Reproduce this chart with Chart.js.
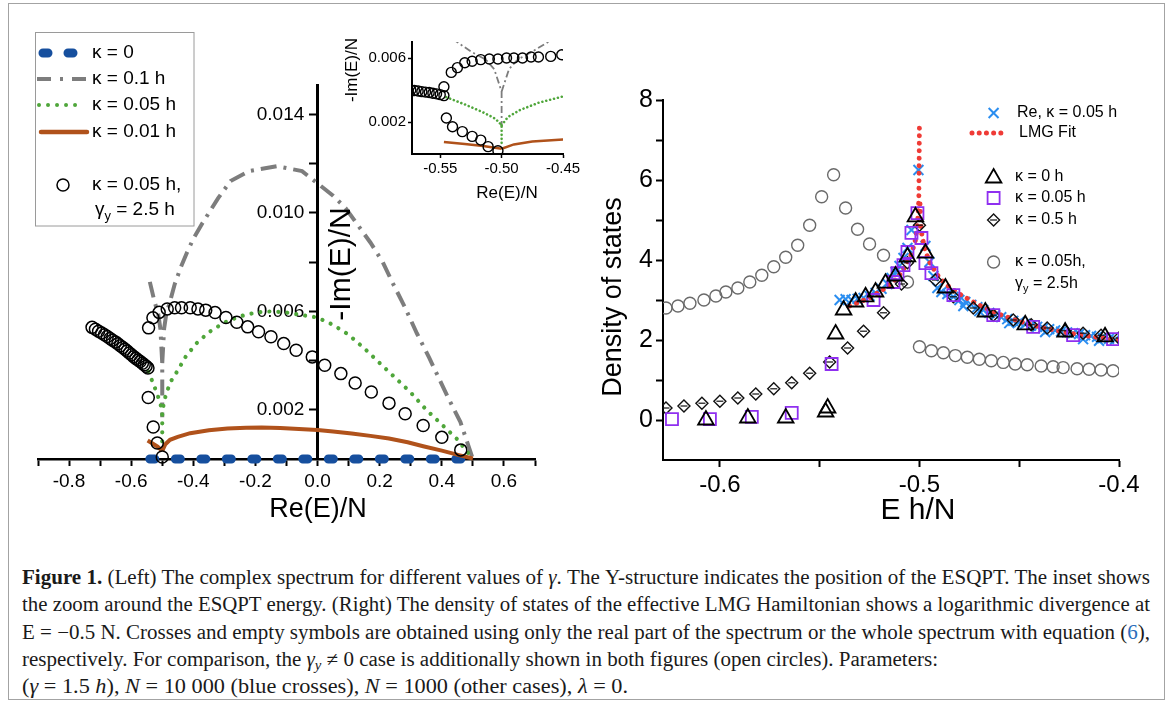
<!DOCTYPE html>
<html>
<head>
<meta charset="utf-8">
<script src="https://cdn.jsdelivr.net/npm/chart.js@4.4.0/dist/chart.umd.min.js"></script>
<style>
  body { margin: 0; background: #fff; width: 1171px; height: 702px; position: relative; overflow: hidden; }
  #frame { position: absolute; left: 8px; top: 3px; width: 1155px; height: 695px; border: 1.5px solid #a3a3a3; }
  canvas { position: absolute; }
  #cLeft { left: 0; top: 0; }
  #cInset { left: 330px; top: 20px; }
  #cRight { left: 590px; top: 0; }
  #caption { position: absolute; left: 22px; top: 564px; width: 1128px; font-family: 'Liberation Serif', 'Times New Roman', serif; font-size: 20.5px; line-height: 27.3px; color: #1a1a1a; }
  #caption div { white-space: nowrap; height: 27.3px; }
  #caption span.ln { display: inline-block; transform-origin: 0 50%; }
  #caption sub { font-size: 0.7em; line-height: 0; vertical-align: -0.3em; }
  #caption .lnk { color: #2a6ebb; }
</style>
</head>
<body>
<div id="frame"></div>
<canvas id="cLeft" width="590" height="530"></canvas>
<canvas id="cInset" width="260" height="190"></canvas>
<canvas id="cRight" width="581" height="530"></canvas>
<div id="caption">
  <div><span class="ln"><b>Figure 1.</b> (Left) The complex spectrum for different values of <i>γ</i>. The Υ-structure indicates the position of the ESQPT. The inset shows</span></div>
  <div><span class="ln">the zoom around the ESQPT energy. (Right) The density of states of the effective LMG Hamiltonian shows a logarithmic divergence at</span></div>
  <div><span class="ln">E = −0.5 N. Crosses and empty symbols are obtained using only the real part of the spectrum or the whole spectrum with equation (<span class="lnk">6</span>),</span></div>
  <div><span class="ln">respectively. For comparison, the <i>γ<sub>y</sub></i> ≠ 0 case is additionally shown in both figures (open circles). Parameters:</span></div>
  <div><span class="ln">(<i>γ</i> = 1.5 <i>h</i>), <i>N</i> = 10 000 (blue crosses), <i>N</i> = 1000 (other cases), <i>λ</i> = 0.</span></div>
</div>
<script>
// ---- left panel: complex spectrum ----
const blueX = [-0.54, 0.5];
const blueY = [0, 0];

const grayX = [-0.540, -0.525, -0.513, -0.506, -0.500, -0.500, null, -0.500, -0.494, -0.487, -0.475, -0.460, -0.440, -0.420, -0.400,
  -0.370, -0.320, -0.280, -0.220, -0.130, -0.050, 0.010, 0.050, 0.090, 0.130, 0.170, 0.210, 0.240, 0.280, 0.320, 0.360, 0.390, 0.420, 0.460, 0.500];
const grayY = [0.0072, 0.0064, 0.0059, 0.0053, 0.0039, 0.0017, null, 0.0039, 0.0053, 0.0059, 0.0064, 0.0071, 0.0078, 0.0084, 0.00895,
  0.0096, 0.0106, 0.0113, 0.0117, 0.0119, 0.0117, 0.0111, 0.0107, 0.0102, 0.0095, 0.0088, 0.0080, 0.0072, 0.0062, 0.0051, 0.0041, 0.0033, 0.0025, 0.0015, 0.0000];

const greenX = [-0.545, -0.530, -0.515, -0.505, -0.500, -0.500, null, -0.500, -0.495, -0.485, -0.470, -0.450, -0.425, -0.390, -0.350,
  -0.300, -0.250, -0.200, -0.150, -0.100, -0.050, 0.000, 0.050, 0.100, 0.150, 0.200, 0.250, 0.300, 0.350, 0.400, 0.450, 0.500];
const greenY = [0.00355, 0.0031, 0.0026, 0.0022, 0.0018, 0.00045, null, 0.0018, 0.0023, 0.00275, 0.0032, 0.0036, 0.00415, 0.0047, 0.00515,
  0.00555, 0.0058, 0.00595, 0.0060, 0.00595, 0.00585, 0.00575, 0.00545, 0.00505, 0.0045, 0.0039, 0.0033, 0.0027, 0.0020, 0.0014, 0.0008, 0.0000];

const orangeX = [-0.547, -0.530, -0.515, -0.500, null, -0.500, -0.490, -0.475, -0.450, -0.410, -0.350, -0.290, -0.230, -0.180, -0.120,
  -0.060, 0.000, 0.050, 0.110, 0.170, 0.230, 0.290, 0.340, 0.400, 0.455, 0.500];
const orangeY = [0.00075, 0.00062, 0.0005, 0.00033, null, 0.00033, 0.0006, 0.00078, 0.0009, 0.00105, 0.00117, 0.00124, 0.00127, 0.00128, 0.00126,
  0.00122, 0.00118, 0.00112, 0.00104, 0.00094, 0.00083, 0.00068, 0.00052, 0.00034, 0.00016, 0.00002];

// open circles, kappa = 0.05 h, gamma_y = 2.5 h
const circFarX = [-0.726, -0.715, -0.705, -0.695, -0.686, -0.677, -0.668, -0.660, -0.651, -0.643, -0.635, -0.627,
  -0.620, -0.613, -0.606, -0.599, -0.592, -0.585, -0.578, -0.571, -0.564, -0.558, -0.552, -0.546];
const circFarY = [0.00535, 0.00527, 0.00519, 0.00512, 0.00505, 0.00498, 0.0049, 0.00483, 0.00476, 0.00468, 0.0046, 0.00453,
  0.00446, 0.00439, 0.00431, 0.00424, 0.00416, 0.00409, 0.00402, 0.00396, 0.00389, 0.00383, 0.00377, 0.0037];
const circLowX = [-0.545, -0.529, -0.516, -0.500];
const circLowY = [0.0025, 0.0013, 0.00065, 0.00008];
const circHighX = [-0.544, -0.530, -0.510, -0.484, -0.460, -0.438, -0.410, -0.385, -0.360, -0.330, -0.295, -0.260, -0.225, -0.190,
  -0.150, -0.109, -0.069, -0.017, 0.023, 0.075, 0.121, 0.173, 0.230, 0.282, 0.340, 0.400, 0.461];
const circHighY = [0.00533, 0.00574, 0.00596, 0.0061, 0.00615, 0.00615, 0.00615, 0.0061, 0.00605, 0.00595, 0.00575, 0.00556, 0.00537, 0.00517,
  0.00497, 0.00469, 0.00442, 0.00415, 0.00381, 0.00347, 0.00309, 0.00272, 0.00227, 0.00184, 0.00136, 0.00088, 0.00037];

const leftXTicks = [-0.9, -0.8, -0.7, -0.6, -0.5, -0.4, -0.3, -0.2, -0.1, 0, 0.1, 0.2, 0.3, 0.4, 0.5, 0.6, 0.7];
const leftXLabels = [-0.8, -0.6, -0.4, -0.2, 0, 0.2, 0.4, 0.6];
const leftYTicks = [0.002, 0.004, 0.006, 0.008, 0.010, 0.012, 0.014];
const leftYLabels = [0.002, 0.006, 0.010, 0.014];

// ---- inset: zoom around ESQPT ----
const insetFarX = [-0.574, -0.571, -0.568, -0.565, -0.562, -0.559, -0.556, -0.553, -0.550, -0.547];
const insetFarY = [0.0040, 0.00397, 0.00394, 0.0039, 0.00387, 0.00384, 0.0038, 0.00376, 0.00371, 0.00365];
const insetHighX = [-0.547, -0.541, -0.536, -0.530, -0.524, -0.517, -0.510, -0.503, -0.496, -0.490, -0.483, -0.476, -0.470, -0.460, -0.451];
const insetHighY = [0.0042, 0.0051, 0.0054, 0.0057, 0.0058, 0.0059, 0.00594, 0.00594, 0.006, 0.006, 0.006, 0.00606, 0.00606, 0.0061, 0.0062];
const insetLowX = [-0.545, -0.540, -0.532, -0.524, -0.517, -0.511, -0.503];
const insetLowY = [0.00225, 0.0017, 0.0014, 0.0011, 0.00087, 0.00046, 0.0002];
const insetXTicks = [-0.55, -0.50, -0.45];
const insetYTicks = [0.002, 0.006];

// ---- right panel: density of states ----
const crossX = [-0.540, -0.537, -0.534, -0.531, -0.528, -0.525, -0.522, -0.519, -0.516, -0.514, -0.512, -0.510, -0.508, -0.506, -0.504,
  -0.5005, -0.497, -0.495, -0.493, -0.491, -0.489, -0.486, -0.483, -0.480, -0.477, -0.474, -0.471, -0.468, -0.465, -0.462, -0.459,
  -0.456, -0.453, -0.450, -0.447, -0.444, -0.441, -0.438, -0.435, -0.432, -0.429, -0.426, -0.423, -0.420, -0.417, -0.414, -0.411,
  -0.408, -0.405, -0.402, -0.478, -0.470, -0.455, -0.437, -0.418, -0.410];
const crossY = [3.00, 3.02, 3.00, 3.03, 3.05, 3.10, 3.18, 3.28, 3.40, 3.55, 3.70, 3.85, 4.05, 4.30, 4.75,
  6.25, 4.35, 3.95, 3.60, 3.30, 3.20, 3.15, 3.08, 3.00, 2.95, 2.88, 2.82, 2.75, 2.68, 2.62, 2.57,
  2.52, 2.48, 2.45, 2.40, 2.36, 2.33, 2.30, 2.27, 2.24, 2.21, 2.19, 2.17, 2.15, 2.12, 2.10, 2.08,
  2.05, 2.03, 2.01, 2.85, 2.72, 2.42, 2.20, 2.02, 1.98];

const lmgX = [-0.535, -0.525, -0.517, -0.511, -0.507, -0.504, -0.502, -0.501, -0.5003, -0.5, null,
  -0.4997, -0.499, -0.4975, -0.495, -0.49, -0.485, -0.48, -0.47, -0.46, -0.45, -0.44, -0.43, -0.42, -0.41, -0.40];
const lmgY = [2.85, 3.05, 3.3, 3.55, 3.85, 4.15, 4.5, 4.9, 5.5, 7.35, null,
  5.4, 4.7, 4.3, 3.95, 3.55, 3.32, 3.15, 2.87, 2.64, 2.47, 2.33, 2.22, 2.13, 2.06, 2.0];

const triX = [-0.607, -0.586, -0.567, -0.547, -0.546, -0.542, -0.538, -0.532, -0.527, -0.522, -0.517, -0.512, -0.506, -0.502,
  -0.497, -0.487, -0.467, -0.447, -0.427, -0.407];
const triY = [0.0, 0.05, 0.05, 0.2, 0.3, 2.15, 2.75, 2.95, 3.08, 3.2, 3.42, 3.6, 4.08, 5.08, 4.17, 3.3, 2.7, 2.38, 2.2, 2.08];

const sqX = [-0.624, -0.605, -0.584, -0.564, -0.544, -0.523, -0.513, -0.511, -0.508, -0.506, -0.504, -0.501, -0.499, -0.497,
  -0.494, -0.483, -0.463, -0.443, -0.423, -0.403];
const sqY = [0.02, 0.02, 0.08, 0.18, 1.4, 3.0, 3.45, 3.67, 3.87, 4.2, 4.68, 5.17, 4.55, 3.92, 3.67, 3.12, 2.62, 2.33, 2.12, 2.02];

const dmX = [-0.627, -0.618, -0.609, -0.600, -0.591, -0.582, -0.573, -0.564, -0.555, -0.545, -0.536, -0.528, -0.518, -0.509,
  -0.506, -0.500, -0.492, -0.483, -0.473, -0.463, -0.453, -0.444, -0.436, -0.427, -0.418, -0.409, -0.400];
const dmY = [0.3, 0.35, 0.42, 0.47, 0.55, 0.65, 0.78, 0.93, 1.17, 1.45, 1.8, 2.22, 2.68, 3.4,
  3.93, 4.87, 3.5, 3.08, 2.8, 2.62, 2.5, 2.38, 2.3, 2.23, 2.17, 2.12, 2.05];

const gcX = [-0.627, -0.621, -0.615, -0.608, -0.602, -0.597, -0.591, -0.585, -0.579, -0.573, -0.567, -0.561, -0.555, -0.549,
  -0.543, -0.537, -0.531, -0.525, -0.518, -0.506, -0.500, -0.494, -0.488, -0.482, -0.476, -0.470, -0.464, -0.458, -0.452,
  -0.446, -0.439, -0.433, -0.428, -0.421, -0.415, -0.409, -0.403];
const gcY = [2.8, 2.85, 2.92, 3.0, 3.1, 3.2, 3.3, 3.45, 3.62, 3.83, 4.07, 4.37, 4.87, 5.58,
  6.13, 5.3, 4.77, 4.4, 4.12, 3.45, 1.83, 1.73, 1.68, 1.61, 1.57, 1.52, 1.48, 1.44, 1.4,
  1.38, 1.35, 1.33, 1.31, 1.28, 1.27, 1.25, 1.23];

const rightXTicks = [-0.6, -0.55, -0.5, -0.45, -0.4];
const rightXLabels = [-0.6, -0.5, -0.4];
const rightYTicks = [0, 1, 2, 3, 4, 5, 6, 7, 8];
const rightYLabels = [0, 2, 4, 6, 8];

// colours
const BLUE = '#164f9e', GRAY = '#7d7d7d', GREEN = '#4fa63a', ORANGE = '#b0521b';
const XBLUE = '#2b8ef0', RED = '#ef3b36', PURPLE = '#8f2ff0', CGRAY = '#6a6a6a';
const FONT = "'Liberation Sans', Arial, Helvetica, sans-serif";

function pts(xs, ys) { return xs.map((x, i) => ({ x: x, y: ys[i] })); }
function near(v, list) { return list.some(t => Math.abs(t - v) < 1e-9); }

function drawMark(ctx, s, x, y, r) {
  ctx.beginPath();
  if (s === 'circle') ctx.arc(x, y, r, 0, Math.PI * 2);
  else if (s === 'crossRot') { const d = r * Math.SQRT1_2; ctx.moveTo(x - d, y - d); ctx.lineTo(x + d, y + d); ctx.moveTo(x + d, y - d); ctx.lineTo(x - d, y + d); }
  else if (s === 'triangle') { ctx.moveTo(x, y - r); ctx.lineTo(x + r * 0.866, y + r * 0.5); ctx.lineTo(x - r * 0.866, y + r * 0.5); ctx.closePath(); }
  else if (s === 'rect') { const h = r * Math.SQRT1_2; ctx.rect(x - h, y - h, 2 * h, 2 * h); }
  else if (s === 'rectRot') { ctx.moveTo(x, y - r); ctx.lineTo(x + r, y); ctx.lineTo(x, y + r); ctx.lineTo(x - r, y); ctx.closePath(); }
  else if (s === 'line') { ctx.moveTo(x - r, y); ctx.lineTo(x + r, y); }
  ctx.stroke();
}

// titles + legends drawn on top of each chart
function makeExtras(id, items) {
  return {
    id: id,
    afterDraw(chart) {
      const ctx = chart.ctx;
      items.forEach(it => {
        ctx.save();
        ctx.strokeStyle = it.color || '#000';
        ctx.fillStyle = it.color || '#000';
        ctx.lineWidth = it.width || 1.5;
        if (it.type === 'box') {
          ctx.strokeRect(it.x, it.y, it.w, it.h);
        } else if (it.type === 'line') {
          ctx.setLineDash(it.dash || []);
          ctx.lineCap = it.cap || 'butt';
          ctx.beginPath(); ctx.moveTo(it.x1, it.y); ctx.lineTo(it.x2, it.y); ctx.stroke();
        } else if (it.type === 'mark') {
          drawMark(ctx, it.style, it.x, it.y, it.r);
        } else if (it.type === 'text') {
          ctx.translate(it.x, it.y);
          if (it.rot) ctx.rotate(it.rot);
          ctx.textBaseline = 'middle';
          ctx.textAlign = 'left';
          const parts = typeof it.text === 'string' ? [{ t: it.text }] : it.text;
          const size = it.size;
          const fontOf = p => (p.sub ? size * 0.68 : size) + 'px ' + FONT;
          let total = 0;
          parts.forEach(p => { ctx.font = fontOf(p); total += ctx.measureText(p.t).width; });
          let cx = it.align === 'center' ? -total / 2 : 0;
          parts.forEach(p => {
            ctx.font = fontOf(p);
            ctx.fillText(p.t, cx, p.sub ? size * 0.32 : 0);
            cx += ctx.measureText(p.t).width;
          });
        }
        ctx.restore();
      });
    }
  };
}

function axis(opts) {
  return {
    type: 'linear',
    min: opts.min, max: opts.max,
    position: opts.position,
    afterFit: opts.fit,
    afterBuildTicks: s => { s.ticks = opts.ticks.map(v => ({ value: v })); },
    ticks: {
      autoSkip: false, maxRotation: 0, color: '#000', padding: opts.pad,
      font: { family: FONT, size: opts.size },
      callback: v => near(v, opts.labels) ? v.toFixed(opts.dec) + (opts.suffix || '') : ''
    },
    grid: { drawOnChartArea: false, tickLength: opts.tl, tickWidth: opts.tw, tickColor: '#000' },
    border: { color: '#000', width: opts.bw }
  };
}

const circleStyle = { showLine: false, pointStyle: 'circle', pointRadius: 6, pointBorderWidth: 1.5, pointBorderColor: '#000', pointBackgroundColor: 'rgba(0,0,0,0)', clip: false };
const baseOpts = { responsive: false, animation: false, events: [], plugins: { legend: { display: false }, tooltip: { enabled: false } } };

// left chart
new Chart(document.getElementById('cLeft'), {
  type: 'scatter',
  data: { datasets: [
    { data: pts(circHighX, circHighY), ...circleStyle },
    { data: pts(circLowX, circLowY), ...circleStyle },
    { data: pts(circFarX, circFarY), ...circleStyle },
    { data: pts(orangeX, orangeY), showLine: true, pointRadius: 0, borderColor: ORANGE, borderWidth: 4, clip: false },
    { data: pts(greenX, greenY), showLine: true, pointRadius: 0, borderColor: GREEN, borderWidth: 4.2, borderDash: [0.01, 9], borderCapStyle: 'round', clip: false },
    { data: pts(grayX, grayY), showLine: true, pointRadius: 0, borderColor: GRAY, borderWidth: 4, borderDash: [16, 7, 3, 7], clip: false },
    { data: pts(blueX, blueY), showLine: true, pointRadius: 0, borderColor: BLUE, borderWidth: 9, borderDash: [5, 20.5], borderCapStyle: 'round', clip: false }
  ]},
  options: {
    ...baseOpts,
    layout: { padding: { left: 38, right: 55, top: 85, bottom: 0 } },
    scales: {
      x: axis({ min: -0.9, max: 0.7, ticks: leftXTicks, labels: leftXLabels, dec: 1, size: 19, pad: 4, tl: 7, tw: 2, bw: 2.5, fit: s => { s.height = 71; } }),
      y: axis({ min: 0, max: 0.0152, position: { x: 0 }, ticks: leftYTicks, labels: leftYLabels, dec: 3, size: 19, pad: 4, tl: 7, tw: 2, bw: 3, suffix: '\u2002\u2009' })
    }
  },
  plugins: [makeExtras('leftExtras', [
    { type: 'text', x: 318, y: 510, text: 'Re(E)/N', size: 27, align: 'center' },
    { type: 'text', x: 342, y: 264, text: '-Im(E)/N', size: 30, align: 'center', rot: -Math.PI / 2 },
    { type: 'box', x: 35.5, y: 32.5, w: 158.5, h: 193.5, color: '#9a9a9a', width: 1 },
    { type: 'line', x1: 43, x2: 73, y: 53, color: BLUE, width: 9, dash: [5, 20], cap: 'round' },
    { type: 'text', x: 92, y: 53, text: 'κ = 0', size: 19 },
    { type: 'line', x1: 37, x2: 88, y: 79, color: GRAY, width: 4, dash: [14, 9, 3, 9] },
    { type: 'text', x: 92, y: 79, text: 'κ = 0.1 h', size: 19 },
    { type: 'line', x1: 39, x2: 82, y: 105, color: GREEN, width: 4, dash: [0.01, 9], cap: 'round' },
    { type: 'text', x: 92, y: 105, text: 'κ = 0.05 h', size: 19 },
    { type: 'line', x1: 41, x2: 87, y: 132, color: ORANGE, width: 4.5, cap: 'round' },
    { type: 'text', x: 92, y: 132, text: 'κ = 0.01 h', size: 19 },
    { type: 'mark', style: 'circle', x: 63, y: 185, r: 6, color: '#000', width: 1.5 },
    { type: 'text', x: 92, y: 185, text: 'κ = 0.05 h,', size: 19 },
    { type: 'text', x: 95, y: 210, text: [{ t: 'γ' }, { t: 'y', sub: true }, { t: ' = 2.5 h' }], size: 19 }
  ])]
});

// inset chart
const insetCircle = { showLine: false, pointStyle: 'circle', pointRadius: 5, pointBorderWidth: 1.4, pointBorderColor: '#000', pointBackgroundColor: 'rgba(0,0,0,0)' };
new Chart(document.getElementById('cInset'), {
  type: 'scatter',
  data: { datasets: [
    { data: pts(insetHighX, insetHighY), ...insetCircle },
    { data: pts(insetLowX, insetLowY), ...insetCircle },
    { data: pts(insetFarX, insetFarY), ...insetCircle },
    { data: pts(orangeX, orangeY), showLine: true, pointRadius: 0, borderColor: ORANGE, borderWidth: 2.5 },
    { data: pts(greenX, greenY), showLine: true, pointRadius: 0, borderColor: GREEN, borderWidth: 2.6, borderDash: [0.01, 4], borderCapStyle: 'round' },
    { data: pts(grayX, grayY), showLine: true, pointRadius: 0, borderColor: GRAY, borderWidth: 1.8, borderDash: [7, 3, 2, 3] }
  ]},
  options: {
    ...baseOpts,
    layout: { padding: { left: 0, right: 27, top: 22, bottom: 0 } },
    scales: {
      x: axis({ min: -0.573, max: -0.45, ticks: insetXTicks, labels: insetXTicks, dec: 2, size: 15, pad: 2, tl: 4, tw: 1.5, bw: 2, fit: s => { s.height = 56; } }),
      y: axis({ min: 0, max: 0.007, position: 'left', ticks: insetYTicks, labels: insetYTicks, dec: 3, size: 15, pad: 2, tl: 4, tw: 1.5, bw: 2, fit: s => { s.width = 82; } })
    }
  },
  plugins: [makeExtras('insetExtras', [
    { type: 'text', x: 177, y: 173, text: 'Re(E)/N', size: 17, align: 'center' },
    { type: 'text', x: 22, y: 50, text: '-Im(E)/N', size: 17, align: 'center', rot: -Math.PI / 2 }
  ])]
});

// right chart
new Chart(document.getElementById('cRight'), {
  type: 'scatter',
  data: { datasets: [
    { data: pts(triX, triY), pointStyle: 'triangle', pointRadius: 9, pointBorderWidth: 1.8, pointBorderColor: '#000', pointBackgroundColor: 'rgba(0,0,0,0)' },
    { data: pts(sqX, sqY), pointStyle: 'rect', pointRadius: 8.5, pointBorderWidth: 1.8, pointBorderColor: PURPLE, pointBackgroundColor: 'rgba(0,0,0,0)' },
    { data: pts(dmX, dmY), pointStyle: 'line', pointRadius: 3.5, pointBorderWidth: 1.2, pointBorderColor: '#111' },
    { data: pts(dmX, dmY), pointStyle: 'rectRot', pointRadius: 6, pointBorderWidth: 1.4, pointBorderColor: '#111', pointBackgroundColor: 'rgba(0,0,0,0)' },
    { data: pts(gcX, gcY), pointStyle: 'circle', pointRadius: 6, pointBorderWidth: 1.4, pointBorderColor: CGRAY, pointBackgroundColor: 'rgba(0,0,0,0)' },
    { data: pts(lmgX, lmgY), showLine: true, pointRadius: 0, borderColor: RED, borderWidth: 5, borderDash: [0.01, 7.5], borderCapStyle: 'round' },
    { data: pts(crossX, crossY), pointStyle: 'crossRot', pointRadius: 7, pointBorderWidth: 2, pointBorderColor: XBLUE }
  ]},
  options: {
    ...baseOpts,
    layout: { padding: { left: 0, right: 52, top: 100, bottom: 0 } },
    scales: {
      x: axis({ min: -0.6285, max: -0.4, ticks: rightXTicks, labels: rightXLabels, dec: 1, size: 24, pad: 4, tl: 7, tw: 2, bw: 2, fit: s => { s.height = 70; } }),
      y: axis({ min: -1, max: 8, position: 'left', ticks: rightYTicks, labels: rightYLabels, dec: 0, size: 25, pad: 3, tl: 7, tw: 2, bw: 2, fit: s => { s.width = 73; } })
    }
  },
  plugins: [makeExtras('rightExtras', [
    { type: 'text', x: 328, y: 511, text: 'E h/N', size: 30, align: 'center' },
    { type: 'text', x: 24, y: 297, text: 'Density of states', size: 27, align: 'center', rot: -Math.PI / 2 },
    { type: 'mark', style: 'crossRot', x: 403.6, y: 113, r: 7, color: XBLUE, width: 2 },
    { type: 'text', x: 427, y: 113, text: 'Re, κ = 0.05 h', size: 16 },
    { type: 'line', x1: 382, x2: 418, y: 133, color: RED, width: 5, dash: [0.01, 7.2], cap: 'round' },
    { type: 'text', x: 429, y: 133, text: 'LMG Fit', size: 16 },
    { type: 'mark', style: 'triangle', x: 403.6, y: 178, r: 9, color: '#000', width: 1.8 },
    { type: 'text', x: 425, y: 177, text: 'κ = 0 h', size: 16 },
    { type: 'mark', style: 'rect', x: 403.6, y: 198, r: 8.5, color: PURPLE, width: 1.8 },
    { type: 'text', x: 425, y: 198, text: 'κ = 0.05 h', size: 16 },
    { type: 'mark', style: 'rectRot', x: 403.6, y: 220, r: 6, color: '#111', width: 1.4 },
    { type: 'mark', style: 'line', x: 403.6, y: 220, r: 3.5, color: '#111', width: 1.2 },
    { type: 'text', x: 425, y: 220, text: 'κ = 0.5 h', size: 16 },
    { type: 'mark', style: 'circle', x: 403.6, y: 262, r: 6, color: CGRAY, width: 1.4 },
    { type: 'text', x: 425, y: 262, text: 'κ = 0.05h,', size: 16 },
    { type: 'text', x: 425, y: 284, text: [{ t: 'γ' }, { t: 'y', sub: true }, { t: ' = 2.5h' }], size: 16 }
  ])]
});

// fit caption lines to the widths of the printed figure
const captionWidths = [1128, 1128, 1128, 916, 606];
document.querySelectorAll('#caption span.ln').forEach((el, i) => {
  const w = el.getBoundingClientRect().width;
  el.style.transform = 'scaleX(' + (captionWidths[i] / w) + ')';
});
</script>
</body>
</html>
